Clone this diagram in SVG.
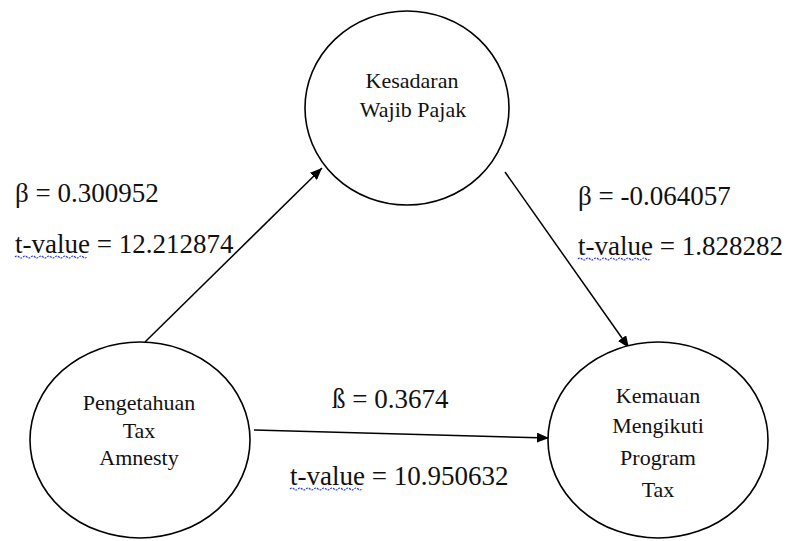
<svg xmlns="http://www.w3.org/2000/svg" width="786" height="541" viewBox="0 0 786 541">
  <defs>
    <marker id="arrow" viewBox="0 0 12 10" refX="12" refY="5" markerWidth="12" markerHeight="10" markerUnits="userSpaceOnUse" orient="auto">
      <path d="M0,0 L12,5 L0,10 Z" fill="#000"/>
    </marker>
  </defs>
  <style>
    text { font-family: "Liberation Serif", "Times New Roman", serif; fill: #111; }
    .node ellipse { fill: #fff; stroke: #000; stroke-width: 1.6; }
    .node text { font-size: 22px; text-anchor: middle; }
    .edge { stroke: #000; stroke-width: 1.5; fill: none; marker-end: url(#arrow); }
    .label { font-size: 27px; }
    .squiggle { stroke: #2b3fd6; stroke-width: 1.2; fill: none; stroke-dasharray: 2 1; }
  </style>
  <rect width="786" height="541" fill="#fff"/>

  <g id="connectors">
    <line class="edge" x1="145" y1="342" x2="322" y2="168"/>
    <line class="edge" x1="505" y1="172" x2="629" y2="348"/>
    <line class="edge" x1="254" y1="430" x2="549" y2="438"/>
  </g>

  <g id="node-kesadaran" class="node">
    <ellipse cx="407" cy="108" rx="102" ry="97"/>
    <text x="412" y="88">Kesadaran</text>
    <text x="413" y="117">Wajib Pajak</text>
  </g>

  <g id="node-pengetahuan" class="node">
    <ellipse cx="140" cy="440" rx="110" ry="98"/>
    <text x="139" y="410">Pengetahuan</text>
    <text x="139" y="438">Tax</text>
    <text x="139" y="465">Amnesty</text>
  </g>

  <g id="node-kemauan" class="node">
    <ellipse cx="658" cy="440" rx="110" ry="98"/>
    <text x="658" y="403">Kemauan</text>
    <text x="658" y="433">Mengikuti</text>
    <text x="658" y="465">Program</text>
    <text x="658" y="497">Tax</text>
  </g>

  <g id="labels">
    <text class="label" x="15" y="202">β = 0.300952</text>
    <text class="label" x="15" y="253">t-value = 12.212874</text>
    <path class="squiggle" d="M15,257 q2,-2 4,0 t4,0 t4,0 t4,0 t4,0 t4,0 t4,0 t4,0 t4,0 t4,0 t4,0 t4,0 t4,0 t4,0 t4,0 t4,0 t4,0 t4,0"/>

    <text class="label" x="578" y="205">β = -0.064057</text>
    <text class="label" x="578" y="255">t-value = 1.828282</text>
    <path class="squiggle" d="M578,259 q2,-2 4,0 t4,0 t4,0 t4,0 t4,0 t4,0 t4,0 t4,0 t4,0 t4,0 t4,0 t4,0 t4,0 t4,0 t4,0 t4,0 t4,0 t4,0"/>

    <text class="label" x="332" y="408">ß = 0.3674</text>
    <text class="label" x="290" y="485">t-value = 10.950632</text>
    <path class="squiggle" d="M290,489 q2,-2 4,0 t4,0 t4,0 t4,0 t4,0 t4,0 t4,0 t4,0 t4,0 t4,0 t4,0 t4,0 t4,0 t4,0 t4,0 t4,0 t4,0 t4,0"/>
  </g>
</svg>
